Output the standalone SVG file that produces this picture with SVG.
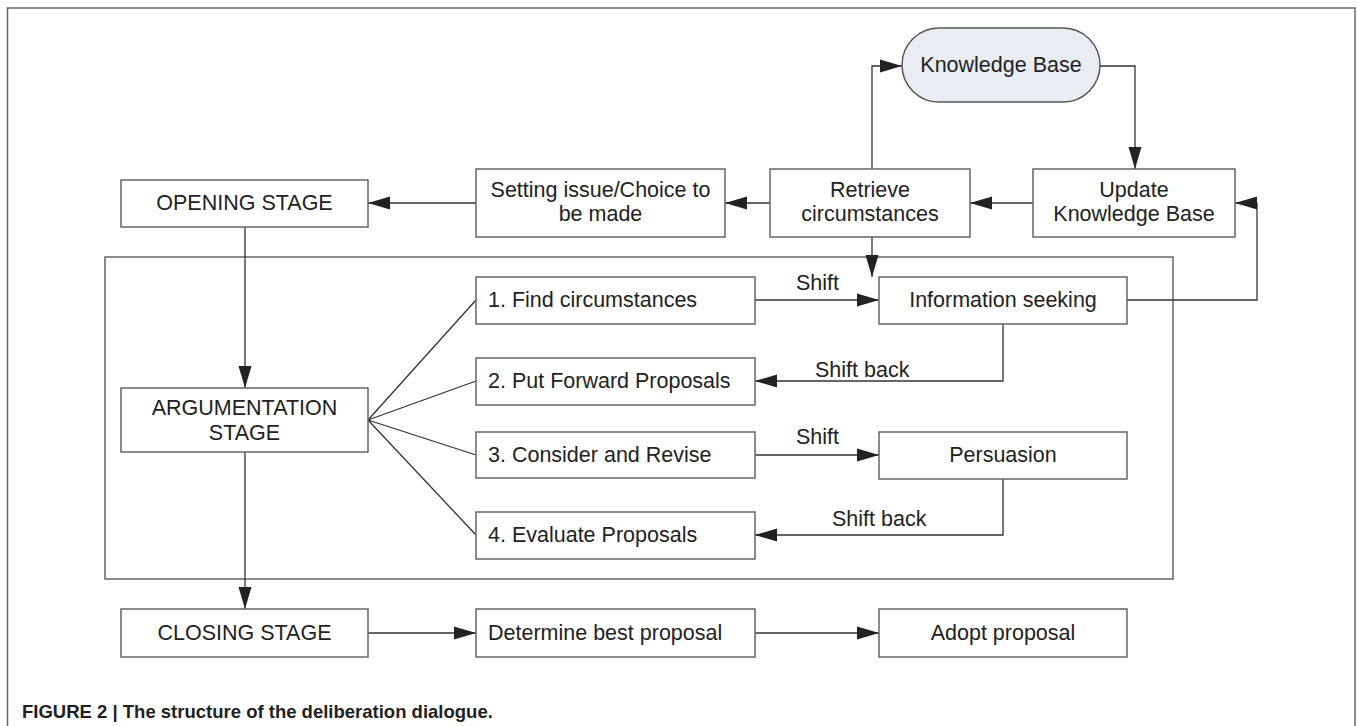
<svg xmlns="http://www.w3.org/2000/svg" width="1358" height="726" viewBox="0 0 1358 726">
<defs>
<marker id="ah" markerWidth="22" markerHeight="14" refX="22" refY="7" orient="auto" markerUnits="userSpaceOnUse">
<path d="M0,0.5 L22,7 L0,13.5 Z" fill="#222"/>
</marker>
<style>
.box{fill:#fff;stroke:#666;stroke-width:1.5}
.kb{fill:#e8edf4;stroke:#555;stroke-width:1.5}
.frame{fill:none;stroke:#666;stroke-width:1.5}
.t{font-family:"Liberation Sans",Arial,sans-serif;font-size:21.5px;fill:#222}
.c{text-anchor:middle}
.ln{fill:none;stroke:#333;stroke-width:1.3}
.cap{font-family:"Liberation Sans",Arial,sans-serif;font-size:18.5px;font-weight:bold;fill:#231f20}
</style>
</defs>
<rect width="1358" height="726" fill="#fff"/>
<path class="frame" d="M7.5,726 V8 H1355 V726"/>
<rect id="inner-frame" class="frame" x="105" y="257" width="1068" height="322"/>

<g id="connectors">
<path class="ln" d="M872,169 V66 H902" marker-end="url(#ah)"/>
<path class="ln" d="M1100,66 H1135 V169" marker-end="url(#ah)"/>
<path class="ln" d="M1033,203 H970" marker-end="url(#ah)"/>
<path class="ln" d="M770,203 H725" marker-end="url(#ah)"/>
<path class="ln" d="M476,203 H368" marker-end="url(#ah)"/>
<path class="ln" d="M872,237 V277" marker-end="url(#ah)"/>
<path class="ln" d="M1127,300 H1257 V203 H1235" marker-end="url(#ah)"/>
<path class="ln" d="M245,227 V388" marker-end="url(#ah)"/>
<path class="ln" d="M245,452 V609" marker-end="url(#ah)"/>
<path class="ln" d="M368,420 L476,300 M368,420 L476,381 M368,420 L476,455 M368,420 L476,535"/>
<path class="ln" d="M755,300 H879" marker-end="url(#ah)"/>
<path class="ln" d="M1003,324 V381 H755" marker-end="url(#ah)"/>
<path class="ln" d="M755,455 H879" marker-end="url(#ah)"/>
<path class="ln" d="M1003,479 V535 H755" marker-end="url(#ah)"/>
<path class="ln" d="M368,633 H476" marker-end="url(#ah)"/>
<path class="ln" d="M755,633 H879" marker-end="url(#ah)"/>
<text class="t" x="796" y="290">Shift</text>
<text class="t" x="815" y="377">Shift back</text>
<text class="t" x="796" y="444">Shift</text>
<text class="t" x="832" y="526">Shift back</text>
</g>

<g id="knowledge-base">
<rect class="kb" x="902" y="28" width="198" height="74" rx="37" ry="37"/>
<text class="t c" x="1001" y="72">Knowledge Base</text>
</g>
<g id="opening-stage">
<rect class="box" x="121" y="180" width="247" height="47"/>
<text class="t c" x="244.5" y="210">OPENING STAGE</text>
</g>
<g id="setting-issue">
<rect class="box" x="476" y="169" width="249" height="68"/>
<text class="t c" x="600.5" y="197">Setting issue/Choice to</text>
<text class="t c" x="600.5" y="221">be made</text>
</g>
<g id="retrieve">
<rect class="box" x="770" y="169" width="200" height="68"/>
<text class="t c" x="870" y="197">Retrieve</text>
<text class="t c" x="870" y="221">circumstances</text>
</g>
<g id="update-kb">
<rect class="box" x="1033" y="169" width="202" height="68"/>
<text class="t c" x="1134" y="197">Update</text>
<text class="t c" x="1134" y="221">Knowledge Base</text>
</g>
<g id="argumentation-stage">
<rect class="box" x="121" y="388" width="247" height="64"/>
<text class="t c" x="244.5" y="415">ARGUMENTATION</text>
<text class="t c" x="244.5" y="440">STAGE</text>
</g>
<g id="find-circumstances">
<rect class="box" x="476" y="277" width="279" height="47"/>
<text class="t" x="488" y="307">1. Find circumstances</text>
</g>
<g id="put-forward">
<rect class="box" x="476" y="358" width="279" height="47"/>
<text class="t" x="488" y="388">2. Put Forward Proposals</text>
</g>
<g id="consider-revise">
<rect class="box" x="476" y="432" width="279" height="46"/>
<text class="t" x="488" y="462">3. Consider and Revise</text>
</g>
<g id="evaluate">
<rect class="box" x="476" y="512" width="279" height="47"/>
<text class="t" x="488" y="542">4. Evaluate Proposals</text>
</g>
<g id="information-seeking">
<rect class="box" x="879" y="277" width="248" height="47"/>
<text class="t c" x="1003" y="307">Information seeking</text>
</g>
<g id="persuasion">
<rect class="box" x="879" y="432" width="248" height="47"/>
<text class="t c" x="1003" y="462">Persuasion</text>
</g>
<g id="closing-stage">
<rect class="box" x="121" y="609" width="247" height="48"/>
<text class="t c" x="244.5" y="640">CLOSING STAGE</text>
</g>
<g id="determine-best">
<rect class="box" x="476" y="609" width="279" height="48"/>
<text class="t" x="488" y="640">Determine best proposal</text>
</g>
<g id="adopt">
<rect class="box" x="879" y="609" width="248" height="48"/>
<text class="t c" x="1003" y="640">Adopt proposal</text>
</g>
<text class="cap" x="22" y="718">FIGURE 2 | The structure of the deliberation dialogue.</text>
</svg>
